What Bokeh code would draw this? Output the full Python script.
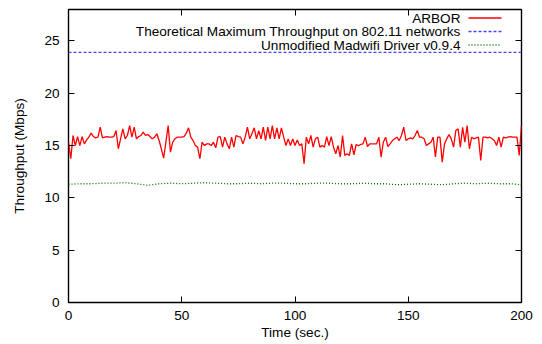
from bokeh.plotting import figure
from bokeh.models import Range1d, LinearAxis, Label, FixedTicker, Arrow
from bokeh.embed import file_html
from bokeh.resources import INLINE

# ---- data ----
arbor = [
    15.32, 13.74, 15.96, 15.00, 15.86, 15.00, 15.86, 15.16, 15.54, 15.80,
    16.18, 15.86, 15.73, 15.80, 16.75, 15.73, 15.80, 15.86, 15.80, 15.80,
    15.86, 16.43, 14.69, 15.64, 16.59, 15.64, 15.96, 16.91, 15.80, 16.75,
    15.64, 15.86, 15.96, 16.27, 15.96, 16.05, 15.86, 15.64, 15.80, 16.12,
    15.48, 14.69, 13.80, 15.32, 16.91, 14.37, 15.32, 15.64, 15.80, 15.80,
    15.80, 15.86, 16.18, 16.69, 15.80, 15.48, 15.00, 14.85, 13.74, 15.32,
    15.00, 15.16, 15.16, 15.00, 15.32, 14.78, 15.80, 15.86, 14.85, 15.80,
    15.16, 14.69, 15.80, 14.85, 15.96, 15.86, 15.80, 15.16, 15.80, 16.75,
    15.64, 16.12, 16.69, 15.64, 16.43, 15.64, 16.75, 15.48, 16.75, 15.64,
    16.91, 15.64, 16.69, 15.64, 16.69, 15.80, 15.00, 15.64, 15.00, 15.64,
    15.00, 15.54, 15.00, 15.16, 13.26, 15.80, 15.16,
    15.96, 14.85, 15.64, 15.80, 14.85, 15.00, 14.85, 15.86, 15.00, 15.86,
    14.85, 14.21, 15.00, 13.90, 15.96, 14.06, 14.21, 14.06, 15.16, 14.12,
    15.10, 15.00, 15.10, 15.16, 15.80, 14.91, 15.16, 15.16, 15.16, 15.16,
    15.80, 13.90, 15.32, 15.80, 14.91, 15.16, 15.48, 15.64, 15.80, 15.48,
    15.96, 16.75, 15.48, 15.64, 15.73, 15.64, 15.96, 16.43, 15.80, 15.80,
    15.64, 15.00, 15.16, 15.32, 15.80, 13.90, 15.80, 15.80, 13.42, 15.16,
    15.64, 16.05, 15.64, 14.85, 16.43, 16.59, 14.85, 16.75, 15.32, 16.91,
    14.69, 15.80, 15.64, 15.73, 15.80, 13.58, 15.80, 15.80, 15.73, 15.80,
    15.64, 15.48, 15.00, 15.80, 14.85, 15.80, 15.73, 15.80, 15.86, 15.80,
    15.80, 15.80, 14.06, 16.91,
]
arbor_time = list(range(len(arbor)))

madwifi_time = [0, 5, 10, 15, 20, 25, 30, 35, 40, 45, 50, 55, 60, 65, 70, 75, 80,
                85, 90, 95, 100, 105, 110, 115, 120, 125, 130, 135, 140, 145, 150,
                155, 160, 165, 170, 175, 180, 185, 190, 195, 200]
madwifi = [11.30, 11.35, 11.35, 11.40, 11.40, 11.45, 11.35, 11.20, 11.35, 11.40,
           11.35, 11.40, 11.45, 11.40, 11.35, 11.35, 11.40, 11.35, 11.40, 11.40,
           11.35, 11.35, 11.40, 11.40, 11.35, 11.35, 11.40, 11.35, 11.35, 11.25,
           11.30, 11.35, 11.30, 11.25, 11.35, 11.40, 11.35, 11.40, 11.35, 11.35,
           11.25]

theory_time = [0, 200]
theory = [23.9, 23.9]

x_ticks = [0, 50, 100, 150, 200]
y_ticks = [0, 5, 10, 15, 20, 25]

series_labels = ["ARBOR",
                 "Theoretical Maximum Throughput on 802.11 networks",
                 "Unmodified Madwifi Driver v0.9.4"]
series_colors = ["#ff0000", "#4646ff", "#007000"]
series_dash = ["solid", "3 2", "1 2"]

FONT = "Liberation Sans"
FS = "13.6px"

p = figure(width=542, height=344, x_range=Range1d(0, 200), y_range=Range1d(0, 28),
           output_backend="svg", toolbar_location=None,
           min_border_left=68, min_border_right=21, min_border_top=9, min_border_bottom=42)
p.xgrid.visible = False
p.ygrid.visible = False
p.outline_line_color = "black"
p.outline_line_width = 1.4
p.background_fill_color = "white"
p.border_fill_color = "white"

p.line(arbor_time, arbor, line_color=series_colors[0], line_width=1.3)
p.line(theory_time, theory, line_color=series_colors[1], line_width=1.3, line_dash=series_dash[1])
p.line(madwifi_time, madwifi, line_color=series_colors[2], line_width=1.3, line_dash=series_dash[2])

for ax in (p.xaxis[0], p.yaxis[0]):
    ax.major_tick_in = 6
    ax.major_tick_out = 0
    ax.minor_tick_line_color = None
    ax.axis_line_color = None
    ax.major_tick_line_color = "black"
    ax.major_label_text_font = FONT
    ax.major_label_text_font_size = FS
    ax.major_label_text_color = "black"
    ax.axis_label_text_font = FONT
    ax.axis_label_text_font_size = FS
    ax.axis_label_text_font_style = "normal"
    ax.axis_label_text_color = "black"

p.xaxis[0].ticker = FixedTicker(ticks=x_ticks)
p.yaxis[0].ticker = FixedTicker(ticks=y_ticks)
p.xaxis[0].axis_label = "Time (sec.)"
p.yaxis[0].axis_label = "Throughput (Mbps)"
p.xaxis[0].major_label_standoff = 8
p.xaxis[0].axis_label_standoff = 2
p.yaxis[0].major_label_standoff = 9
p.yaxis[0].axis_label_standoff = 14

# mirrored ticks (gnuplot style), without labels
for loc, ticks in (("right", y_ticks), ("above", x_ticks)):
    ax = LinearAxis(ticker=FixedTicker(ticks=ticks))
    ax.major_tick_in = 6
    ax.major_tick_out = 0
    ax.minor_tick_line_color = None
    ax.axis_line_color = None
    ax.major_label_text_font_size = "0px"
    ax.major_label_text_color = None
    ax.major_label_standoff = 0
    p.add_layout(ax, loc)

# key: text right-aligned, line sample to its right (gnuplot style)
row_y = [284.5, 271.0, 257.5]
for txt, col, dash, yy in zip(series_labels, series_colors, series_dash, row_y):
    p.add_layout(Label(x=392, y=yy, x_units="screen", y_units="screen", text=txt,
                       text_align="right", text_baseline="middle",
                       text_font=FONT, text_font_size=FS, text_color="black"))
    p.add_layout(Arrow(end=None, x_start=400, y_start=yy, x_end=433, y_end=yy,
                       start_units="screen", end_units="screen",
                       line_color=col, line_width=1.3, line_dash=dash))

open("out.html", "w").write(file_html(p, INLINE))
